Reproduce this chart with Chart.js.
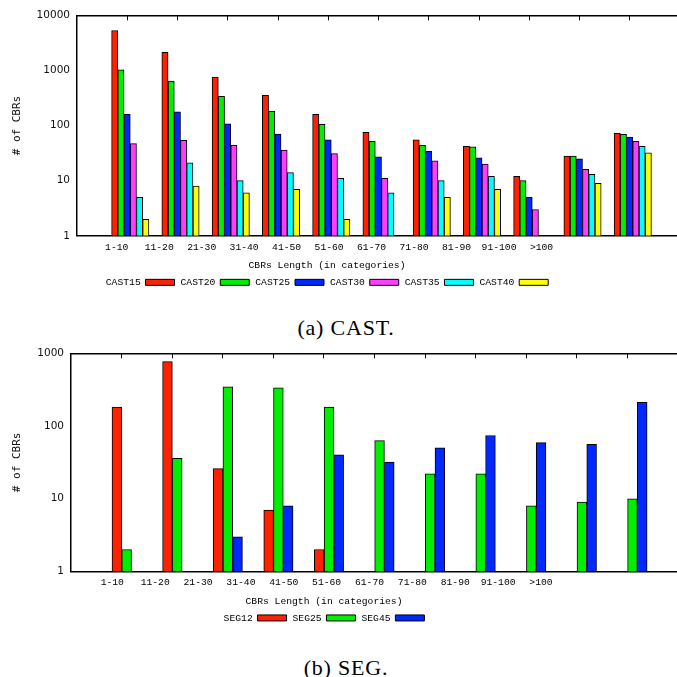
<!DOCTYPE html>
<html><head><meta charset="utf-8">
<script src="https://cdn.jsdelivr.net/npm/chart.js@4"></script>
<style>
html,body{margin:0;padding:0;background:#fff;width:677px;height:677px;overflow:hidden;position:relative}
.clip{position:absolute;left:0;width:677px;overflow:hidden}
.clip canvas{position:absolute;top:0}
.cap{position:absolute;left:0;width:692px;text-align:center;font-family:"Liberation Serif";font-size:22px;letter-spacing:0.8px;color:#000;line-height:22px;white-space:nowrap}
</style></head>
<body>
<div class="clip" style="top:0;height:305px"><canvas id="castChart" width="726" height="305" style="left:-26px"></canvas></div>
<div class="cap" style="top:317px">(a) CAST.</div>
<div class="clip" style="top:340px;height:300px"><canvas id="segChart" width="728" height="300" style="left:-30px"></canvas></div>
<div class="cap" style="top:657px">(b) SEG.</div>
<script>
const categories = ['1-10','11-20','21-30','31-40','41-50','51-60','61-70','71-80','81-90','91-100','>100'];
const xTitle = 'CBRs Length (in categories)';
const yTitle = '# of CBRs';

const castSeries = ['CAST15','CAST20','CAST25','CAST30','CAST35','CAST40'];
const cast15 = [5300, 2130, 760, 353, 160, 75, 55, 42, 12, 28, 72];
const cast20 = [1030, 642, 339, 183, 105, 52, 44, 41, 10, 28, 69];
const cast25 = [160, 178, 108, 70, 55, 27, 34, 26, 5, 25, 62];
const cast30 = [47, 54, 44, 36, 31, 11, 23, 20, 3, 16, 52];
const cast35 = [5, 21, 10, 14, 11, 6, 10, 12, null, 13, 42];
const cast40 = [2, 8, 6, 7, 2, null, 5, 7, null, 9, 32];
const castYTicks = [1, 10, 100, 1000, 10000];

const segSeries = ['SEG12','SEG25','SEG45'];
const seg12 = [182, 770, 26, 7, 2, null, null, null, null, null, null];
const seg25 = [2, 36, 346, 335, 182, 63, 22, 22, 8, 9, 10];
const seg45 = [null, null, 3, 8, 40, 32, 50, 74, 59, 56, 212];
const segYTicks = [1, 10, 100, 1000];

const palette = ['#ff2200', '#00ee00', '#0028ff', '#ff3cff', '#00ffff', '#ffff00'];
const monoFont = {family: 'Liberation Mono', size: 9.7};

function buildChart(id, o) {
  const catTicks = s => { s.ticks = categories.map((c, i) => ({value: i + 1})); };
  const datasets = o.series.map((name, k) => ({
    label: name,
    data: o.values[k].map((v, i) => ({x: i + 1, y: v})),
    backgroundColor: palette[k],
    borderColor: '#000',
    borderWidth: 1,
    barThickness: o.barW,
    xAxisID: 'x', yAxisID: 'y'
  }));
  return new Chart(document.getElementById(id), {
    type: 'bar',
    data: {datasets},
    options: {
      responsive: false,
      animation: false,
      layout: {padding: {top: o.padTop, right: 20, bottom: o.padBottom, left: 0}},
      plugins: {
        tooltip: {enabled: false},
        legend: {
          position: 'bottom', rtl: true, reverse: true, textDirection: 'ltr',
          labels: {font: monoFont, color: '#000', boxWidth: 29, boxHeight: 6, padding: 6},
          title: {display: true, text: xTitle, color: '#000',
                  font: {family: 'Liberation Mono', size: 9.7, lineHeight: 1.1},
                  padding: {top: 6, bottom: 0}}
        }
      },
      scales: {
        x: {type: 'linear', position: 'bottom', min: -o.shift, max: 12 - o.shift,
            offset: false, ticks: {display: false},
            grid: {display: false, drawTicks: false, offset: false},
            border: {display: true, color: '#000', width: 1.5},
            afterFit: s => { s.height = 0; }},
        xl: {type: 'linear', position: 'bottom', weight: 1, min: o.labMin, max: o.labMax,
             offset: false, grid: {display: false, drawTicks: false, offset: false},
             border: {display: false},
             ticks: {autoSkip: false, maxRotation: 0, minRotation: 0, padding: 5.5,
                     font: monoFont, color: '#000', callback: (v, i) => categories[i]},
             afterBuildTicks: catTicks,
             afterFit: s => { s.height = 19; }},
        xt: {type: 'linear', position: 'top', min: 0, max: 12, offset: false,
             grid: {display: true, drawOnChartArea: false, drawTicks: true, tickLength: -5,
                    color: '#000', lineWidth: 1, offset: false},
             border: {display: true, color: '#000', width: 1.5},
             ticks: {display: false},
             afterBuildTicks: catTicks,
             afterFit: s => { s.height = 0; }},
        y: {type: 'logarithmic', position: 'left', min: 1, max: o.yTicks[o.yTicks.length - 1],
            grid: {display: false, drawTicks: false},
            border: {display: true, color: '#000', width: 1.5},
            ticks: {padding: 7, autoSkip: false, color: '#111',
                    font: {family: 'DejaVu Sans', size: 10.5},
                    callback: v => String(v)},
            afterBuildTicks: s => { s.ticks = o.yTicks.map(v => ({value: v})); },
            afterFit: s => { s.width = o.yW; },
            title: {display: true, text: yTitle, color: '#111',
                    font: {family: 'DejaVu Sans Mono', size: 11},
                    padding: {top: o.yTitlePad, bottom: 0}}}
      }
    }
  });
}

buildChart('castChart', {
  series: castSeries,
  values: [cast15, cast20, cast25, cast30, cast35, cast40],
  yTicks: castYTicks,
  barW: 6.22, shift: 0.06,
  labMin: 0.0654, labMax: 14.26,
  padTop: 15.3, padBottom: 7.8,
  yW: 103, yTitlePad: 36.4
});

buildChart('segChart', {
  series: segSeries,
  values: [seg12, seg25, seg45],
  yTicks: segYTicks,
  barW: 9.75, shift: 0.1,
  labMin: 0.0366, labMax: 14.196,
  padTop: 12, padBottom: 7.2,
  yW: 101, yTitlePad: 40.9
});
</script>
</body></html>
